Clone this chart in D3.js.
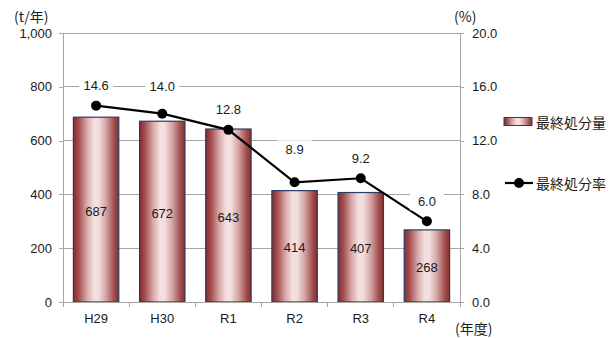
<!DOCTYPE html>
<html>
<head>
<meta charset="utf-8">
<script src="https://cdn.jsdelivr.net/npm/d3@7/dist/d3.min.js"></script>
<style>
  html, body { margin: 0; padding: 0; background: #fff; }
  svg { display: block; }
  text { fill: #1a1a1a; }
  .num { font-family: "Liberation Sans", Arial, sans-serif; font-size: 13px; }
  .jp { font-family: "Noto Sans CJK JP", "Noto Sans", sans-serif; font-size: 14px; }
</style>
</head>
<body>
<svg id="chart" width="616" height="338"></svg>
<script>
// Fiscal years
const years = ["H29", "H30", "R1", "R2", "R3", "R4"];
// Final disposal amount (t/year)
const amounts = [687, 672, 643, 414, 407, 268];
// Final disposal rate (%)
const rates = [14.6, 14.0, 12.8, 8.9, 9.2, 6.0];
// Axis ticks
const leftTicks = [0, 200, 400, 600, 800, 1000];
const rightTicks = [0, 4, 8, 12, 16, 20];
const seriesNames = ["最終処分量", "最終処分率"];

// How far each rate label sits above its marker (px), nudged to avoid the line
const rateLabelLift = [20, 27, 20, 33, 20, 20];

const svg = d3.select("#chart");
const plot = { left: 63, right: 460, top: 33, bottom: 302 };
const gridColor = "#a6a6a6";

const x = d3.scaleBand().domain(years).range([plot.left, plot.right]).padding(0);
const yL = d3.scaleLinear().domain([0, 1000]).range([plot.bottom, plot.top]);
const yR = d3.scaleLinear().domain([0, 20]).range([plot.bottom, plot.top]);

// Cylinder-like horizontal gradient for bars
const defs = svg.append("defs");
const grad = defs.append("linearGradient").attr("id", "barGrad")
  .attr("x1", "0%").attr("x2", "100%").attr("y1", "0%").attr("y2", "0%");
[
  [0, "#862a2a"], [0.12, "#a44f4f"], [0.3, "#d8aaaa"], [0.45, "#f3dfdf"],
  [0.55, "#f3dfdf"], [0.72, "#d4a4a4"], [0.9, "#a14d4d"], [1, "#882e2e"]
].forEach(([o, c]) => grad.append("stop").attr("offset", o).attr("stop-color", c));

// Gridlines
svg.append("g").selectAll("line").data(leftTicks.filter(d => d > 0)).join("line")
  .attr("x1", plot.left).attr("x2", plot.right)
  .attr("y1", d => yL(d)).attr("y2", d => yL(d))
  .attr("stroke", gridColor).attr("stroke-width", 1).attr("shape-rendering", "crispEdges");

// Left axis
const leftAxis = svg.append("g").attr("transform", `translate(${plot.left},0)`)
  .call(d3.axisLeft(yL).tickValues(leftTicks).tickSize(4).tickPadding(7)
    .tickFormat(d3.format(",")));
// Right axis
const rightAxis = svg.append("g").attr("transform", `translate(${plot.right},0)`)
  .call(d3.axisRight(yR).tickValues(rightTicks).tickSize(4).tickPadding(8)
    .tickFormat(d3.format(".1f")));
[leftAxis, rightAxis].forEach(g => {
  g.select(".domain").attr("stroke", gridColor).attr("shape-rendering", "crispEdges");
  g.selectAll(".tick line").attr("stroke", gridColor).attr("shape-rendering", "crispEdges");
  g.selectAll(".tick text").attr("class", "num").attr("font-size", null)
    .attr("font-family", null).attr("fill", "#1a1a1a");
});

// Bars
const barW = x.bandwidth() * 0.686;
const bars = svg.append("g");
bars.selectAll("rect").data(years).join("rect")
  .attr("x", (d) => x(d) + (x.bandwidth() - barW) / 2)
  .attr("y", (d, i) => yL(amounts[i]))
  .attr("width", barW)
  .attr("height", (d, i) => plot.bottom - yL(amounts[i]))
  .attr("fill", "url(#barGrad)")
  .attr("stroke", "#2b3a66").attr("stroke-width", 1.2);

// Bottom axis
const bottomAxis = svg.append("g").attr("transform", `translate(0,${plot.bottom})`)
  .call(d3.axisBottom(x).tickSize(0).tickPadding(12));
bottomAxis.select(".domain").attr("stroke", gridColor).attr("stroke-width", 1.2);
bottomAxis.selectAll(".tick text").attr("class", "num").attr("font-size", null)
  .attr("font-family", null).attr("fill", "#1a1a1a");
// Category boundary ticks
svg.append("g").selectAll("line").data(d3.range(years.length + 1)).join("line")
  .attr("x1", i => plot.left + i * x.step()).attr("x2", i => plot.left + i * x.step())
  .attr("y1", plot.bottom).attr("y2", plot.bottom + 5)
  .attr("stroke", gridColor).attr("shape-rendering", "crispEdges");

// Bar value labels
svg.append("g").selectAll("text").data(years).join("text")
  .attr("class", "num")
  .attr("x", d => x(d) + x.bandwidth() / 2)
  .attr("y", (d, i) => (yL(amounts[i]) + plot.bottom) / 2 + 1.5)
  .attr("text-anchor", "middle").attr("dominant-baseline", "central")
  .text((d, i) => amounts[i]);

// Rate line
const line = d3.line()
  .x((d, i) => x(years[i]) + x.bandwidth() / 2)
  .y(d => yR(d));
svg.append("path").datum(rates).attr("d", line)
  .attr("fill", "none").attr("stroke", "#000").attr("stroke-width", 2.2);
svg.append("g").selectAll("circle").data(rates).join("circle")
  .attr("cx", (d, i) => x(years[i]) + x.bandwidth() / 2)
  .attr("cy", d => yR(d)).attr("r", 5).attr("fill", "#000");

// Rate labels on white boxes
const rl = svg.append("g").selectAll("g").data(rates).join("g")
  .attr("transform", (d, i) =>
    `translate(${x(years[i]) + x.bandwidth() / 2},${yR(d) - rateLabelLift[i]})`);
rl.append("rect").attr("x", -17).attr("y", -9).attr("width", 34).attr("height", 18).attr("fill", "#fff");
rl.append("text").attr("class", "num").attr("text-anchor", "middle")
  .attr("dominant-baseline", "central").text(d => d.toFixed(1));

// Unit labels
svg.append("text").attr("class", "jp").attr("x", 14).attr("y", 16)
  .attr("dominant-baseline", "central").attr("font-size", 13).text("(t/年)");
svg.append("text").attr("class", "jp").attr("x", 454).attr("y", 16)
  .attr("dominant-baseline", "central").attr("font-size", 13).text("(%)");
svg.append("text").attr("class", "jp").attr("x", 455).attr("y", 328)
  .attr("dominant-baseline", "central").attr("font-size", 13).text("(年度)");

// Legend
const lg = svg.append("g");
lg.append("rect").attr("x", 504).attr("y", 117.5).attr("width", 28).attr("height", 8)
  .attr("fill", "url(#barGrad)").attr("stroke", "#2b3a66").attr("stroke-width", 1);
lg.append("text").attr("class", "jp").attr("x", 536).attr("y", 121.5)
  .attr("dominant-baseline", "central").text(seriesNames[0]);
lg.append("line").attr("x1", 505).attr("x2", 533).attr("y1", 183).attr("y2", 183)
  .attr("stroke", "#000").attr("stroke-width", 2.2);
lg.append("circle").attr("cx", 519).attr("cy", 183).attr("r", 5).attr("fill", "#000");
lg.append("text").attr("class", "jp").attr("x", 536).attr("y", 183)
  .attr("dominant-baseline", "central").text(seriesNames[1]);
</script>
</body>
</html>
